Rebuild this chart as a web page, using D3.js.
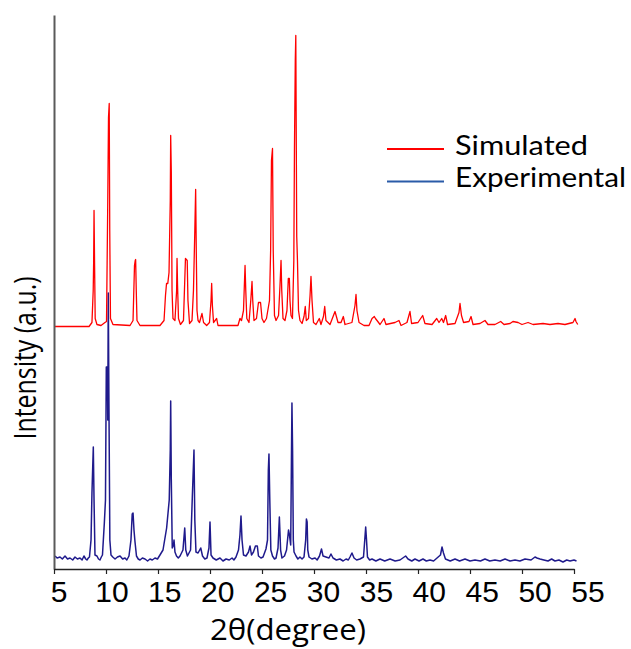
<!DOCTYPE html>
<html><head><meta charset="utf-8">
<script src="https://cdn.jsdelivr.net/npm/d3@7"></script>
<style>body{margin:0;background:#fff}svg{display:block}</style>
</head><body>
<svg id="c" width="631" height="649"></svg>
<script>
// ---- data (2θ in degrees, intensity in a.u.) ----
const simulated = [
[5.00,0],[8.37,0],[8.65,4],[8.77,36],[8.81,63],[8.85,116],[8.90,64],[8.96,8],[9.13,2],[9.52,1],[9.90,4],
[10.05,5],[10.17,126],[10.24,209],[10.31,223],[10.36,96],[10.43,8],[10.67,2],
[12.31,1],[12.60,6],[12.74,61],[12.81,66],[12.85,67],[12.91,36],[12.98,6],[13.27,1],
[15.19,1],[15.58,6],[15.72,31],[15.82,43],[15.94,43],[16.06,54],[16.18,126],[16.22,191],[16.28,154],[16.35,36],[16.44,8],
[16.63,6],[16.79,36],[16.83,68],[16.88,41],[16.97,8],[17.16,2],
[17.45,6],[17.64,68],[17.81,66],[17.88,26],[18.03,3],
[18.27,6],[18.41,36],[18.54,96],[18.62,137],[18.68,76],[18.75,16],[18.85,6],[18.99,4],[19.23,13],[19.38,4],[19.68,1],
[19.95,4],[20.10,26],[20.16,43],[20.23,21],[20.34,4],[20.64,8],[20.77,1],
[22.69,1],[22.88,8],[23.03,6],[23.22,16],[23.37,61],[23.44,36],[23.54,8],[23.75,4],[23.92,26],[24.04,45],[24.11,26],[24.23,6],
[24.47,8],[24.66,24],[24.86,24],[25.00,8],[25.19,4],[25.43,8],[25.72,26],[25.83,76],[25.91,166],[26.01,178],[26.08,76],[26.20,11],[26.35,6],
[26.59,11],[26.73,41],[26.83,66],[26.90,36],[27.02,8],[27.21,6],[27.40,16],[27.53,48],[27.63,48],[27.69,26],[27.79,11],[27.93,8],
[28.06,66],[28.12,176],[28.20,266],[28.25,291],[28.30,176],[28.34,90],[28.41,66],[28.51,16],[28.65,6],[28.85,3],
[29.04,10],[29.16,20],[29.26,6],[29.47,8],[29.62,31],[29.71,50],[29.81,26],[29.95,4],[30.19,2],[30.51,8],[30.67,2],
[30.91,10],[31.03,20],[31.15,6],[31.54,2],[32.02,15],[32.31,4],[32.60,4],[32.82,10],[32.98,2],[33.65,4],[33.94,21],[34.04,32],[34.13,16],[34.33,4],
[34.81,1],[35.29,1],[35.58,8],[35.80,10],[35.91,8],[36.06,6],[36.35,2],[36.73,8],[36.92,2],[37.79,4],[38.17,6],[38.37,1],
[38.94,4],[39.23,15],[39.38,3],[40.00,4],[40.45,11],[40.67,3],[41.35,2],[41.80,8],[42.02,4],[42.28,8],[42.45,4],[42.66,11],[42.84,2],
[43.56,3],[43.94,14],[44.04,23],[44.18,11],[44.38,4],[44.90,5],[45.10,10],[45.29,2],[45.96,3],[46.44,6],[46.73,2],[47.40,2],
[47.95,5],[48.27,2],[48.85,3],[49.13,5],[49.62,4],[50.00,2],[50.58,4],[51.06,2],[52.02,3],[52.69,2],[53.46,3],[54.13,2],[54.90,4],[55.10,8],[55.19,5],[55.36,2]
];
const experimental = [
[5.10,13],[5.30,11],[5.58,12],[5.80,10],[6.06,13],[6.30,10],[6.54,11],[6.80,9],[7.02,12],[7.25,10],[7.50,11],[7.70,9],[7.88,13],[8.05,10],[8.17,9],[8.30,11],[8.41,12],
[8.56,29],[8.65,76],[8.78,122],[8.85,69],[8.94,14],
[9.13,13],[9.28,10],[9.42,9],[9.55,12],[9.66,14],[9.84,46],[9.95,69],[10.03,202],[10.13,202],[10.17,149],[10.22,276],[10.28,169],[10.37,29],[10.48,14],
[10.65,12],[10.87,10],[11.10,12],[11.35,13],[11.60,10],[11.83,11],[12.00,9],[12.21,13],[12.40,29],[12.52,55],[12.60,56],[12.69,39],[12.79,27],[12.93,13],
[13.10,10],[13.27,9],[13.50,11],[13.75,10],[14.00,8],[14.23,10],[14.45,9],[14.71,11],[14.95,10],[15.19,14],[15.48,19],[15.83,41],[16.08,69],[16.18,119],[16.22,168],[16.28,89],[16.37,21],
[16.49,24],[16.54,29],[16.63,17],[16.78,13],[16.95,11],[17.12,13],[17.40,19],[17.57,41],[17.67,19],[17.83,13],
[18.13,19],[18.30,72],[18.46,119],[18.54,49],[18.65,17],[18.85,16],[19.11,21],[19.28,13],[19.50,10],[19.71,11],[19.90,21],[20.00,47],[20.10,14],
[20.29,11],[20.60,9],[20.96,11],[21.25,8],[21.54,10],[21.85,9],[22.12,11],[22.30,9],[22.50,12],[22.74,19],[22.88,34],[22.98,53],[23.08,29],[23.22,14],
[23.46,13],[23.70,17],[23.85,23],[23.99,14],[24.18,17],[24.37,23],[24.55,23],[24.66,13],
[24.90,11],[25.10,12],[25.38,20],[25.53,29],[25.61,99],[25.67,115],[25.75,69],[25.85,19],[26.01,13],
[26.20,10],[26.35,11],[26.54,21],[26.67,52],[26.79,19],[26.92,11],[27.16,13],[27.36,19],[27.55,39],[27.64,34],[27.76,24],
[27.83,109],[27.88,166],[27.94,119],[28.01,29],[28.08,17],[28.27,13],[28.45,10],[28.65,12],[28.85,10],
[29.04,12],[29.20,29],[29.27,50],[29.34,47],[29.40,19],[29.52,12],[29.80,10],[30.10,11],[30.30,9],[30.53,13],[30.72,20],[30.87,13],
[31.15,12],[31.44,11],[31.63,15],[31.83,11],[32.15,9],[32.50,10],[32.80,8],[33.08,10],[33.30,9],[33.46,12],[33.65,16],[33.85,11],
[34.10,9],[34.42,10],[34.76,12],[34.88,29],[34.97,42],[35.05,29],[35.14,12],[35.35,9],[35.58,10],[35.95,8],[36.35,10],[36.80,8],[37.31,10],[37.80,8],[38.27,9],
[38.81,13],[39.04,10],[39.40,8],[39.71,10],[40.10,8],[40.48,10],[40.80,8],[41.15,9],[41.50,8],[41.83,11],[42.16,14],[42.31,22],[42.45,16],[42.64,10],
[43.10,8],[43.56,10],[44.00,8],[44.52,10],[45.00,8],[45.48,9],[46.00,8],[46.44,10],[46.90,8],[47.40,9],[47.90,8],[48.37,10],[48.85,8],[49.33,9],[49.80,8],[50.29,10],[50.87,9],[51.25,12],[51.44,11],[51.73,10],
[52.10,9],[52.50,8],[52.85,10],[53.17,8],[53.55,9],[53.94,7],[54.30,9],[54.62,8],[55.00,9],[55.24,8]
];
const xTicks = [5,10,15,20,25,30,35,40,45,50,55];
const seriesNames = ["Simulated","Experimental"];
const simulatedOffset = 242.5;

// ---- drawing ----
const svg = d3.select("#c");
const x = d3.scaleLinear().domain([5,55]).range([54,574]);
const xLab = d3.scaleLinear().domain([5,55]).range([59,588]);
const y = d3.scaleLinear().domain([0,554]).range([569,15]);

const line = d3.line().x(d=>x(d[0])).y(d=>y(d[1]));

svg.append("path").datum(experimental)
  .attr("d", line).attr("fill","none").attr("stroke","#1f1a8c").attr("stroke-width",1.5).attr("stroke-linejoin","round");
svg.append("path").datum(simulated.map(d=>[d[0], d[1]+simulatedOffset]))
  .attr("d", line).attr("fill","none").attr("stroke","#ff0000").attr("stroke-width",1.3).attr("stroke-linejoin","round");

// y axis
const yAx = svg.append("g").attr("transform","translate(54,0)")
  .call(d3.axisLeft(y).tickValues([]).tickSizeOuter(0));
yAx.select(".domain").attr("stroke","#5a5a5a").attr("stroke-width",2);

// x axis
const xAx = svg.append("g").attr("transform","translate(0,569)")
  .call(d3.axisBottom(x).tickValues(xTicks).tickSize(5).tickSizeOuter(0).tickFormat(""));
xAx.select(".domain").attr("stroke","#222").attr("stroke-width",1.5);
xAx.selectAll(".tick line").attr("stroke","#222").attr("stroke-width",1.2);

svg.append("g").selectAll("text").data(xTicks).join("text")
  .attr("x", d=>xLab(d)).attr("y", 602)
  .attr("text-anchor","middle")
  .attr("font-family","'Liberation Sans', Arial, sans-serif").attr("font-size",30).attr("fill","#000")
  .text(d=>d);

svg.append("text").attr("x",288).attr("y",640).attr("text-anchor","middle")
  .attr("font-family","'Open Sans', sans-serif").attr("font-size",30).attr("fill","#000")
  .attr("textLength",156).attr("lengthAdjust","spacingAndGlyphs")
  .text("2θ(degree)");

svg.append("text").attr("transform","translate(36,358) rotate(-90)").attr("text-anchor","middle")
  .attr("font-family","'Open Sans', sans-serif").attr("font-size",31).attr("fill","#000")
  .attr("textLength",163).attr("lengthAdjust","spacingAndGlyphs")
  .text("Intensity (a.u.)");

// legend
const legColors = ["#ff0000","#2a5ba8"];
const leg = svg.append("g");
seriesNames.forEach((n,i)=>{
  const yy = 149 + i*32.5;
  leg.append("line").attr("x1",387).attr("x2",444).attr("y1",yy).attr("y2",yy)
    .attr("stroke",legColors[i]).attr("stroke-width",2);
  leg.append("text").attr("x",455).attr("y",yy+5.5)
    .attr("font-family","Lato, 'Open Sans', sans-serif").attr("font-size",27).attr("fill","#000")
    .attr("textLength", i===0?133:171).attr("lengthAdjust","spacingAndGlyphs")
    .text(n);
});
</script>
</body></html>
